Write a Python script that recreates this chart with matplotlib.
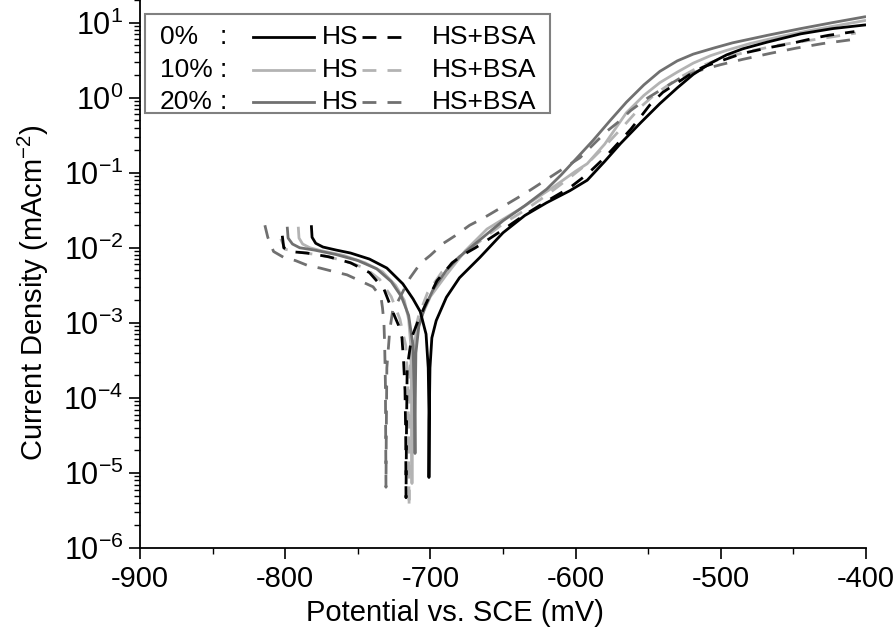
import numpy as np
import matplotlib
matplotlib.use('Agg')
from matplotlib import pyplot as plt
from matplotlib.lines import Line2D
from matplotlib.patches import Rectangle
from matplotlib.ticker import MultipleLocator, FixedLocator

plt.rcParams['font.family'] = 'Liberation Sans'
plt.rcParams['mathtext.fontset'] = 'custom'
plt.rcParams['mathtext.rm'] = 'Liberation Sans'
plt.rcParams['mathtext.it'] = 'Liberation Sans:italic'
plt.rcParams['mathtext.bf'] = 'Liberation Sans:bold'
plt.rcParams['axes.unicode_minus'] = False

# potential (mV vs SCE) and log10 of current density (mA cm-2)
# 0% HS
hs0_E = [-782, -781.5, -779, -774, -765, -755, -742, -730, -719, -712, -707, -703, -701.5, -701, -701,
         -700.8, -700.3, -699, -696, -689, -680, -666, -650, -635, -620, -604, -592, -580, -569, -555,
         -542, -530, -519, -507, -496, -485, -468, -445, -423, -400]
hs0_logi = [-1.70, -1.86, -1.94, -1.99, -2.03, -2.07, -2.15, -2.27, -2.48, -2.68, -2.85, -3.15, -3.60, -4.20, -5.06,
            -4.30, -3.60, -3.20, -2.97, -2.66, -2.40, -2.13, -1.80, -1.57, -1.40, -1.24, -1.10, -0.85, -0.61, -0.33,
            -0.08, 0.13, 0.31, 0.46, 0.57, 0.65, 0.74, 0.85, 0.92, 0.97]

# 0% HS+BSA
bsa0_E = [-802, -801, -797, -785, -770, -755, -742, -732, -726, -722, -719.6, -718.5, -717.5, -717, -716.8,
          -716.5, -716, -713, -708, -702, -695.5, -685, -678, -669, -661, -650, -635, -620, -604, -592,
          -580, -569, -562, -555, -549, -540, -533, -519, -512, -500, -485, -466, -452, -434, -426, -408]
bsa0_logi = [-1.84, -2.00, -2.05, -2.07, -2.12, -2.20, -2.33, -2.55, -2.85, -3.03, -3.20, -3.50, -3.90, -4.50, -5.33,
             -4.50, -3.60, -3.20, -2.95, -2.70, -2.44, -2.20, -2.10, -2.00, -1.90, -1.76, -1.56, -1.38, -1.20, -1.02,
             -0.80, -0.57, -0.42, -0.25, -0.10, 0.07, 0.16, 0.34, 0.41, 0.49, 0.59, 0.67, 0.72, 0.80, 0.83, 0.88]

# 10% HS
hs10_E = [-791, -790.5, -788, -783, -775, -760, -745, -733, -724, -718, -715, -713.5, -713, -712.7,
          -712.5, -712, -710, -707, -700, -689, -676, -661, -650, -638, -616, -600, -592, -580, -565, -553,
          -542, -530, -519, -507, -496, -480, -460, -440, -420, -400]
hs10_logi = [-1.72, -1.87, -1.95, -2.00, -2.04, -2.10, -2.20, -2.32, -2.50, -2.70, -2.95, -3.30, -4.00, -5.14,
             -4.20, -3.50, -3.15, -2.95, -2.65, -2.36, -2.04, -1.75, -1.62, -1.48, -1.20, -0.98, -0.88, -0.62, -0.20, 0.03,
             0.20, 0.34, 0.46, 0.56, 0.63, 0.72, 0.81, 0.89, 0.96, 1.03]

# 10% HS+BSA
bsa10_E = [-803, -800, -790, -775, -760, -745, -735, -727, -721, -717, -715.5, -715, -714.7,
           -714.5, -714, -712, -708, -702, -692, -680, -665, -650, -635, -620, -605, -592, -580, -568, -555,
           -545, -530, -515, -500, -480, -460, -440, -420, -407]
bsa10_logi = [-1.88, -2.02, -2.06, -2.10, -2.17, -2.27, -2.42, -2.65, -2.95, -3.30, -3.80, -4.50, -5.46,
              -4.50, -3.60, -3.20, -2.90, -2.60, -2.32, -2.12, -1.90, -1.68, -1.50, -1.30, -1.08, -0.88, -0.65, -0.40, -0.12,
              0.05, 0.25, 0.41, 0.52, 0.62, 0.70, 0.76, 0.82, 0.86]

# 20% HS
hs20_E = [-798.6, -798, -795, -790, -780, -765, -750, -737, -727, -720, -715, -712, -711, -710.6,
          -710.4, -710, -708, -704, -698, -689, -680, -665, -650, -635, -620, -610, -598, -588, -576, -565,
          -553, -542, -530, -519, -505, -492, -468, -445, -423, -400]
hs20_logi = [-1.72, -1.87, -1.95, -2.00, -2.03, -2.09, -2.17, -2.28, -2.45, -2.65, -2.90, -3.30, -4.00, -4.74,
             -4.00, -3.40, -3.05, -2.80, -2.55, -2.30, -2.12, -1.88, -1.64, -1.44, -1.22, -1.03, -0.78, -0.57, -0.30, -0.06,
             0.17, 0.35, 0.49, 0.58, 0.66, 0.73, 0.83, 0.92, 1.00, 1.08]

# 20% HS+BSA
bsa20_E = [-814, -812, -808, -800, -793, -784, -776, -766, -757.5, -748.5, -739.5, -734, -733, -732, -731.5,
           -731, -730.8, -730.6, -730.4, -730, -728, -726, -722, -717.5, -714, -707, -700, -691, -683, -673,
           -664, -650, -633.5, -616, -597, -585, -578, -569, -562, -550, -540, -528, -515, -500, -485,
           -466, -448, -430, -407]
bsa20_logi = [-1.70, -1.86, -2.05, -2.14, -2.17, -2.24, -2.27, -2.32, -2.36, -2.44, -2.52, -2.66, -2.80, -3.00, -3.30,
              -3.80, -4.50, -5.19, -4.50, -3.60, -3.10, -2.84, -2.70, -2.53, -2.40, -2.21, -2.10, -1.94, -1.84, -1.70,
              -1.61, -1.45, -1.26, -1.04, -0.80, -0.57, -0.44, -0.30, -0.17, 0.00, 0.12, 0.26, 0.36, 0.44, 0.51,
              0.59, 0.66, 0.72, 0.78]

row_labels = ['0%', '10%', '20%']
colors = ['black', '#b3b3b3', '#707070']
y_decades = np.arange(-6, 2)
dash = (5, 4)
fs = 21
leg_fs = 19

fig = plt.figure(figsize=(8.94, 6.31), dpi=100)
ax = fig.add_axes([0.1566, 0.1315, 0.8121, 0.8685])

curves = [(hs0_E, hs0_logi, bsa0_E, bsa0_logi),
          (hs10_E, hs10_logi, bsa10_E, bsa10_logi),
          (hs20_E, hs20_logi, bsa20_E, bsa20_logi)]

# plot lighter ones first so black sits on top
for k in [1, 2, 0]:
    E1, l1, E2, l2 = curves[k]
    ax.plot(E1, 10**np.array(l1), color=colors[k], lw=2, solid_capstyle='butt')
    ax.plot(E2, 10**np.array(l2), color=colors[k], lw=2, dashes=dash)

ax.set_yscale('log')
ax.set_xlim(-900, -400)
ax.set_ylim(1e-6, 20)
ax.xaxis.set_major_locator(MultipleLocator(100))
ax.xaxis.set_minor_locator(MultipleLocator(50))
ax.yaxis.set_major_locator(FixedLocator(10.0**y_decades))
minor = [m * 10.0**d for d in y_decades for m in range(2, 10) if m * 10.0**d <= 20]
ax.yaxis.set_minor_locator(FixedLocator(minor))

for s in ['top', 'right']:
    ax.spines[s].set_visible(False)
for s in ['left', 'bottom']:
    ax.spines[s].set_linewidth(1.3)

ax.tick_params(which='major', direction='out', length=8, width=1.2, labelsize=fs, pad=4)
ax.tick_params(axis='y', which='major', labelsize=22)
ax.tick_params(which='minor', direction='out', length=4, width=1)
ax.set_xlabel('Potential vs. SCE (mV)', fontsize=fs)
ax.set_ylabel('Current Density (mAcm$^{-2}$)', fontsize=fs)
ax.xaxis.set_label_coords(0.434, -0.093)
ax.yaxis.set_label_coords(-0.122, 0.467)

# hand-made legend box
ax.add_patch(Rectangle((0.0069, 0.7938), 0.5578, 0.1807, transform=ax.transAxes,
                       facecolor='white', edgecolor='#808080', lw=1.5, zorder=5, clip_on=False))
row_y = [0.9325, 0.8723, 0.8139]
for lab, c, y in zip(row_labels, colors, row_y):
    ax.text(0.0275, y, lab, transform=ax.transAxes, fontsize=leg_fs, va='center', ha='left', zorder=6)
    ax.text(0.114, y, ':', transform=ax.transAxes, fontsize=leg_fs, va='center', ha='center', zorder=6)
    ax.add_line(Line2D([0.1556, 0.2390], [y, y], transform=ax.transAxes, color=c, lw=2, zorder=6))
    ax.text(0.2500, y, 'HS', transform=ax.transAxes, fontsize=leg_fs, va='center', ha='left', zorder=6)
    ax.add_line(Line2D([0.3058, 0.3623], [y, y], transform=ax.transAxes, color=c, lw=2,
                       dashes=dash, zorder=6))
    ax.text(0.4022, y, 'HS+BSA', transform=ax.transAxes, fontsize=leg_fs, va='center', ha='left', zorder=6)

fig.savefig('out.png', dpi=100)
